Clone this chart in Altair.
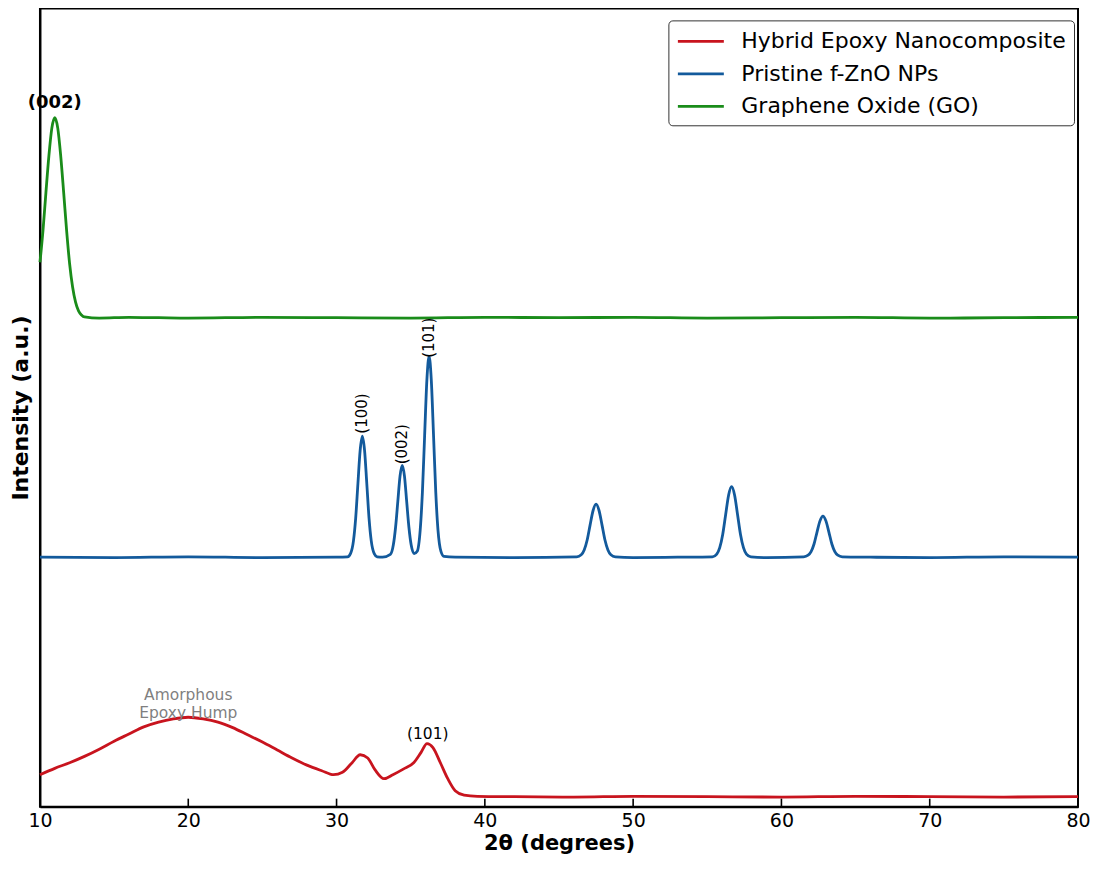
import altair as alt
import pandas as pd

# ---------------- data ----------------
series_names = ["Hybrid Epoxy Nanocomposite", "Pristine f-ZnO NPs", "Graphene Oxide (GO)"]
series_colors = ["#c8141e", "#135a9c", "#1a8c1a"]

# Graphene Oxide (GO)
go_x = [10.0, 10.2, 10.4, 10.6, 10.8, 11.0, 11.2, 11.4, 11.6, 11.8, 12.0, 12.2, 12.4,
        12.6, 12.8, 13.0, 14, 16, 18, 20, 25, 30, 35, 40, 45, 50, 55, 60, 65, 70, 75, 80]
go_y = [68.2, 72.1, 76.9, 81.5, 85.0, 86.3, 85.0, 81.5, 76.9, 72.1, 68.0, 65.1, 63.2,
        62.1, 61.6, 61.35, 61.2, 61.3, 61.25, 61.2, 61.3, 61.25, 61.2, 61.3, 61.25, 61.3,
        61.2, 61.25, 61.3, 61.2, 61.25, 61.3]

# Pristine f-ZnO NPs (written segment by segment)
zno_x = ([10, 15, 20, 25, 30]
         + [30.74, 30.94, 31.14, 31.29, 31.44, 31.59, 31.74, 31.89, 32.04, 32.19, 32.34, 32.54, 32.74]
         + [33.1]
         + [33.63, 33.83, 33.98, 34.13, 34.28, 34.43, 34.58, 34.73, 34.88, 35.03]
         + [35.23, 35.44]
         + [35.64, 35.79, 35.94, 36.09, 36.24, 36.39, 36.54, 36.69, 36.84, 37.04, 37.24]
         + [38, 42]
         + [46.2, 46.5, 46.7, 46.9, 47.1, 47.3, 47.5, 47.7, 47.9, 48.1, 48.3, 48.5, 48.8]
         + [50, 53]
         + [55.34, 55.64, 55.84, 56.04, 56.24, 56.44, 56.64, 56.84, 57.04, 57.24, 57.44, 57.64, 57.94]
         + [59]
         + [61.5, 61.8, 62.0, 62.2, 62.4, 62.6, 62.8, 63.0, 63.2, 63.4, 63.6, 63.8, 64.1]
         + [66, 70, 75, 80])
zno_y = ([31.25, 31.2, 31.3, 31.2, 31.25]
         + [31.3, 31.7, 33.3, 36.15, 40.45, 44.6, 46.4, 44.6, 40.45, 36.15, 33.3, 31.7, 31.3]
         + [31.25]
         + [31.6, 32.8, 35.0, 38.2, 41.4, 42.75, 41.4, 38.2, 35.0, 32.8]
         + [31.7, 32.0]
         + [34.65, 39.4, 46.5, 53.4, 56.4, 53.4, 46.5, 39.4, 34.65, 31.97, 31.35]
         + [31.25, 31.2]
         + [31.3, 31.55, 32.15, 33.4, 35.3, 37.1, 37.9, 37.1, 35.3, 33.4, 32.15, 31.55, 31.3]
         + [31.2, 31.25]
         + [31.3, 31.65, 32.45, 34.1, 36.6, 39.05, 40.1, 39.05, 36.6, 34.1, 32.45, 31.65, 31.3]
         + [31.2]
         + [31.3, 31.5, 31.95, 32.9, 34.4, 35.8, 36.4, 35.8, 34.4, 32.9, 31.95, 31.5, 31.3]
         + [31.25, 31.2, 31.3, 31.25])

# Hybrid Epoxy Nanocomposite
hyb_x = [10.0, 11.0, 12.0, 13.0, 14.0, 15.0, 16.0, 17.0, 18.0, 19.0, 20.0, 21.0, 22.0, 23.0,
         24.0, 25.0, 26.0, 27.0, 28.0, 29.0, 29.8, 30.4, 31.0, 31.6, 32.1, 32.6, 33.2, 33.8,
         34.5, 35.2, 35.7, 36.1, 36.5, 37.0, 37.5, 38.0, 38.6, 39.5, 42, 46, 50, 55, 60, 65,
         70, 75, 80]
hyb_y = [4.0, 4.8, 5.5, 6.3, 7.2, 8.2, 9.1, 10.0, 10.6, 11.0, 11.2, 11.0, 10.6, 9.9,
         9.0, 8.1, 7.1, 6.1, 5.2, 4.5, 4.0, 4.3, 5.4, 6.5, 6.1, 4.6, 3.5, 4.0,
         4.7, 5.5, 6.8, 7.9, 7.4, 5.5, 3.5, 2.0, 1.45, 1.3, 1.25, 1.2, 1.3, 1.25, 1.2, 1.3,
         1.25, 1.2, 1.25]

x_ticks = [10, 20, 30, 40, 50, 60, 70, 80]

# annotations
bold_label = ["(002)"]
bold_x = [11.0]
bold_y = [88.1]

vert_labels = ["(100)", "(002)", "(101)"]
vert_x = [31.74, 34.43, 36.24]
vert_y = [49.25, 45.4, 58.75]

horiz_labels = ["(101)"]
horiz_x = [36.15]
horiz_y = [9.1]

hump_labels = ["Amorphous", "Epoxy Hump"]
hump_x = [20.0, 20.0]
hump_y = [14.0, 11.75]

# ---------------- tables ----------------
frames = []
for name, xs, ys in [(series_names[0], hyb_x, hyb_y),
                     (series_names[1], zno_x, zno_y),
                     (series_names[2], go_x, go_y)]:
    frames.append(pd.DataFrame({"theta": xs, "intensity": ys, "sample": name}))
df = pd.concat(frames, ignore_index=True)

FONT = "DejaVu Sans"
PLOT_W = 1039
PLOT_H = 799
xscale = alt.Scale(domain=[10, 80], nice=False, zero=False)
yscale = alt.Scale(domain=[0, 100], nice=False, zero=False)

lines = alt.Chart(df).mark_line(strokeWidth=2.8, interpolate="monotone").encode(
    x=alt.X("theta:Q", scale=xscale,
            axis=alt.Axis(title="2θ (degrees)", values=x_ticks, format="d", tickSize=0,
                          labelFontSize=19, labelPadding=5, labelColor="black",
                          labelFlush=False, labelFont=FONT, titleFont=FONT,
                          titleFontSize=21, titleFontWeight="bold", titleColor="black",
                          titlePadding=2, domainColor="black", domainWidth=2, grid=False)),
    y=alt.Y("intensity:Q", scale=yscale,
            axis=alt.Axis(title="Intensity (a.u.)", labels=False, ticks=False, grid=False,
                          domainColor="black", domainWidth=2, titleFont=FONT,
                          titleFontSize=22, titleFontWeight="bold", titleColor="black",
                          titlePadding=7)),
    color=alt.Color("sample:N",
                    scale=alt.Scale(domain=series_names, range=series_colors),
                    sort=series_names,
                    legend=alt.Legend(title=None, orient="none", legendX=629, legendY=12,
                                      symbolType="M-1,0H3", symbolSize=529,
                                      symbolStrokeWidth=2.8, labelFontSize=22,
                                      labelFont=FONT, labelColor="black", labelOffset=39,
                                      labelLimit=0, padding=8, rowPadding=8.5,
                                      strokeColor="#333333", cornerRadius=4,
                                      fillColor="white")),
    detail="sample:N",
)

ticks_df = pd.DataFrame({"t": x_ticks})
tick_marks = alt.Chart(ticks_df).mark_rule(color="black", strokeWidth=1.6).encode(
    x=alt.X("t:Q", scale=xscale),
    y=alt.value(PLOT_H), y2=alt.value(PLOT_H - 8),
)

bold_df = pd.DataFrame({"x": bold_x, "y": bold_y, "t": bold_label})
bold_text = alt.Chart(bold_df).mark_text(font=FONT, fontSize=18, fontWeight="bold",
                                          color="black", align="center",
                                          baseline="middle").encode(
    x=alt.X("x:Q", scale=xscale), y=alt.Y("y:Q", scale=yscale), text="t:N")

vert_df = pd.DataFrame({"x": vert_x, "y": vert_y, "t": vert_labels})
vert_text = alt.Chart(vert_df).mark_text(font=FONT, fontSize=15, color="black", angle=270,
                                          align="center", baseline="middle").encode(
    x=alt.X("x:Q", scale=xscale), y=alt.Y("y:Q", scale=yscale), text="t:N")

horiz_df = pd.DataFrame({"x": horiz_x, "y": horiz_y, "t": horiz_labels})
horiz_text = alt.Chart(horiz_df).mark_text(font=FONT, fontSize=15.5, color="black",
                                            align="center", baseline="middle").encode(
    x=alt.X("x:Q", scale=xscale), y=alt.Y("y:Q", scale=yscale), text="t:N")

hump_df = pd.DataFrame({"x": hump_x, "y": hump_y, "t": hump_labels})
hump_text = alt.Chart(hump_df).mark_text(font=FONT, fontSize=15.5, color="#7f7f7f",
                                          align="center", baseline="middle").encode(
    x=alt.X("x:Q", scale=xscale), y=alt.Y("y:Q", scale=yscale), text="t:N")

chart = alt.layer(lines, tick_marks, bold_text, vert_text, horiz_text, hump_text).properties(
    width=PLOT_W, height=PLOT_H,
    autosize=alt.AutoSizeParams(type="none"),
    padding={"left": 32, "top": 0, "right": 13, "bottom": 54},
    background="white",
).configure_view(stroke="black", strokeWidth=2)

chart.save("out.html", embed_options={"renderer": "svg", "actions": False})
